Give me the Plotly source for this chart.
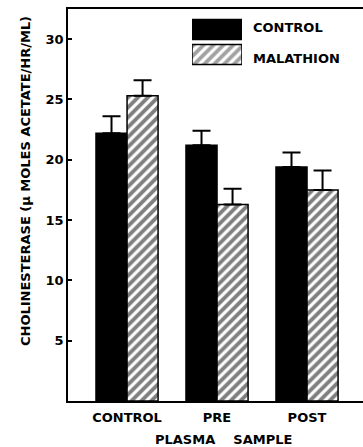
import plotly.graph_objects as go

# ---- data ----
categories = ["CONTROL", "PRE", "POST"]
series_names = ["CONTROL", "MALATHION"]
control_values = [22.2, 21.2, 19.4]
control_errors = [1.4, 1.2, 1.2]
malathion_values = [25.3, 16.3, 17.5]
malathion_errors = [1.3, 1.3, 1.6]
y_ticks = [5, 10, 15, 20, 25, 30]
y_title = "CHOLINESTERASE (μ MOLES ACETATE/HR/ML)"
x_title = "PLASMA\u00a0\u00a0\u00a0 SAMPLE"

FONT = dict(family="DejaVu Sans", size=13, color="black", weight="bold")
xpos = list(range(len(categories)))
PATTERN = dict(fgcolor="black", bgcolor="white", size=7, solidity=0.55,
               fillmode="overlay")

fig = go.Figure()
fig.add_trace(go.Bar(
    x=xpos, y=control_values, name=series_names[0],
    marker=dict(color="black", line=dict(color="black", width=1.5)),
    error_y=dict(type="data", symmetric=False, array=control_errors,
                 arrayminus=[0] * len(control_errors),
                 color="black", thickness=2, width=9),
    showlegend=False,
))
fig.add_trace(go.Bar(
    x=xpos, y=malathion_values, name=series_names[1],
    marker=dict(color="white", line=dict(color="black", width=1.5),
                pattern=dict(shape="/", **PATTERN)),
    error_y=dict(type="data", symmetric=False, array=malathion_errors,
                 arrayminus=[0] * len(malathion_errors),
                 color="black", thickness=2, width=9),
    showlegend=False,
))

# legend keys drawn as bars on a small inset axis
fig.add_trace(go.Bar(
    x=[1, 1], y=[0, 1], orientation="h", width=0.8,
    xaxis="x2", yaxis="y2", showlegend=False, hoverinfo="skip",
    marker=dict(color=["black", "white"], line=dict(color="black", width=1.5),
                pattern=dict(shape=["", "/"], **PATTERN)),
))

W, H = 363, 447
ml, mr, mt, mb = 68, 0, 9, 46
pw, ph = W - ml - mr, H - mt - mb

def px_x(px):
    return (px - ml) / pw

def px_y(py):
    return (H - mb - py) / ph

annotations = []
for i, name in enumerate(series_names):
    annotations.append(dict(
        text=name, xref="paper", yref="paper",
        x=px_x(251), y=px_y(28 + 30 * i), xanchor="left", yanchor="middle",
        showarrow=False, font=FONT))
annotations.append(dict(
    text=y_title, xref="paper", yref="paper", x=px_x(25), y=px_y(181),
    xanchor="center", yanchor="middle", textangle=-90, showarrow=False,
    font=FONT))
annotations.append(dict(
    text=x_title, xref="paper", yref="paper", x=px_x(223), y=px_y(439),
    xanchor="center", yanchor="middle", showarrow=False, font=FONT))

fig.update_layout(
    width=W, height=H,
    margin=dict(l=ml, r=mr, t=mt, b=mb, pad=0),
    paper_bgcolor="white", plot_bgcolor="white",
    barmode="group", bargap=0.31, bargroupgap=0,
    font=FONT,
    xaxis=dict(range=[-0.656, 2.622], tickvals=xpos, ticktext=categories,
               showline=True, linecolor="black", linewidth=1.5, mirror=True,
               ticks="", showgrid=False, zeroline=False,
               tickfont=FONT, ticklabelstandoff=4),
    yaxis=dict(range=[0, 32.5], tickvals=y_ticks,
               showline=True, linecolor="black", linewidth=1.5,
               ticks="inside", ticklen=4, tickwidth=1.5, tickcolor="black",
               showgrid=False, zeroline=False, tickfont=FONT),
    xaxis2=dict(domain=[px_x(192), px_x(242)], range=[0, 1], anchor="y2",
                visible=False, fixedrange=True),
    yaxis2=dict(domain=[px_y(67), px_y(17)], range=[1.5, -0.5], anchor="x2",
                visible=False, fixedrange=True),
    annotations=annotations,
)

fig.write_html(
    "out.html",
    config={"displayModeBar": False},
    post_script="document.body.style.margin='0';document.body.style.overflow='hidden';",
)
